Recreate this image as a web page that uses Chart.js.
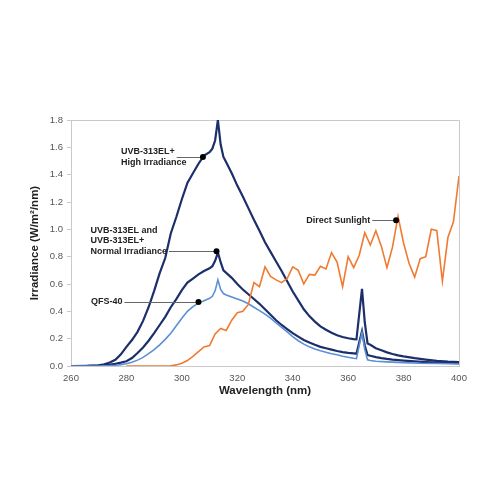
<!DOCTYPE html>
<html>
<head>
<meta charset="utf-8">
<script src="https://cdn.jsdelivr.net/npm/chart.js@4"></script>
<style>
  html, body { margin: 0; padding: 0; background: #fff; }
  #wrap { width: 500px; height: 500px; }
</style>
</head>
<body>
<div id="wrap"><canvas id="spectrum"></canvas></div>
<script>
// UVB-313EL+ high irradiance
const highNm = [260, 266, 270, 272, 274, 276, 278, 280, 282, 284, 286, 288, 290, 292, 294, 296, 298, 300, 302, 304, 306, 308, 310, 311, 312, 313, 314, 315, 316, 318, 320, 322, 324, 326, 328, 330, 332, 334, 336, 338, 340, 342, 344, 346, 348, 350, 352, 354, 356, 358, 360, 362, 363, 365, 366, 367, 368, 370, 372, 374, 376, 378, 380, 384, 388, 392, 396, 400];
const highVal = [0, 0.001, 0.005, 0.012, 0.025, 0.045, 0.085, 0.14, 0.19, 0.25, 0.33, 0.43, 0.55, 0.68, 0.79, 0.97, 1.09, 1.22, 1.34, 1.41, 1.48, 1.54, 1.565, 1.59, 1.65, 1.80, 1.62, 1.53, 1.49, 1.41, 1.32, 1.24, 1.155, 1.07, 0.99, 0.905, 0.835, 0.765, 0.695, 0.62, 0.545, 0.48, 0.415, 0.365, 0.325, 0.29, 0.265, 0.243, 0.225, 0.212, 0.203, 0.197, 0.195, 0.565, 0.32, 0.165, 0.155, 0.13, 0.115, 0.10, 0.088, 0.078, 0.07, 0.057, 0.047, 0.038, 0.032, 0.028];

// UVB-313EL and UVB-313EL+ normal irradiance
const normalNm = [260, 266, 270, 274, 276, 278, 280, 282, 284, 286, 288, 290, 292, 294, 296, 298, 300, 302, 304, 306, 308, 310, 311, 312, 313, 314, 315, 318, 320, 322, 324, 326, 328, 330, 332, 334, 336, 338, 340, 342, 344, 346, 348, 350, 352, 354, 356, 358, 360, 362, 363, 365, 366, 367, 368, 370, 372, 374, 376, 380, 384, 388, 392, 396, 400];
const normalVal = [0, 0.001, 0.003, 0.01, 0.016, 0.025, 0.035, 0.058, 0.095, 0.135, 0.185, 0.24, 0.30, 0.36, 0.43, 0.49, 0.555, 0.61, 0.64, 0.67, 0.695, 0.715, 0.73, 0.77, 0.83, 0.76, 0.70, 0.645, 0.60, 0.56, 0.525, 0.49, 0.455, 0.415, 0.375, 0.335, 0.30, 0.27, 0.24, 0.215, 0.19, 0.172, 0.155, 0.14, 0.13, 0.12, 0.11, 0.102, 0.096, 0.092, 0.09, 0.255, 0.15, 0.08, 0.075, 0.065, 0.058, 0.052, 0.047, 0.04, 0.034, 0.029, 0.025, 0.022, 0.02];

// QFS-40
const qfsNm = [260, 270, 274, 276, 278, 280, 282, 284, 286, 288, 290, 292, 294, 296, 298, 300, 302, 304, 306, 308, 310, 311, 312, 313, 314, 315, 316, 318, 320, 322, 324, 326, 328, 330, 332, 334, 336, 338, 340, 342, 344, 346, 348, 350, 352, 354, 356, 358, 360, 362, 363, 365, 366, 367, 368, 370, 374, 380, 386, 392, 400];
const qfsVal = [0, 0, 0.003, 0.006, 0.01, 0.017, 0.027, 0.043, 0.063, 0.09, 0.12, 0.155, 0.195, 0.24, 0.295, 0.35, 0.40, 0.435, 0.46, 0.478, 0.495, 0.51, 0.55, 0.63, 0.56, 0.53, 0.52, 0.505, 0.49, 0.475, 0.455, 0.43, 0.405, 0.38, 0.35, 0.315, 0.283, 0.25, 0.215, 0.185, 0.16, 0.14, 0.125, 0.112, 0.10, 0.09, 0.082, 0.072, 0.064, 0.057, 0.054, 0.245, 0.12, 0.045, 0.04, 0.035, 0.03, 0.025, 0.02, 0.018, 0.015];

// Direct sunlight
const sunNm = [280, 284, 288, 292, 296, 298, 300, 302, 304, 306, 308, 310, 312, 314, 316, 318, 320, 322, 324, 326, 328, 330, 332, 334, 336, 338, 340, 342, 344, 346, 348, 350, 352, 354, 356, 358, 360, 362, 364, 366, 368, 370, 372, 374, 376, 378, 380, 382, 384, 386, 388, 390, 392, 394, 396, 398, 400];
const sunVal = [0, 0, 0, 0, 0.002, 0.008, 0.02, 0.04, 0.07, 0.105, 0.14, 0.15, 0.235, 0.275, 0.26, 0.335, 0.39, 0.40, 0.45, 0.61, 0.58, 0.725, 0.655, 0.63, 0.61, 0.64, 0.725, 0.70, 0.60, 0.67, 0.665, 0.73, 0.71, 0.83, 0.76, 0.58, 0.80, 0.72, 0.81, 0.975, 0.885, 0.99, 0.875, 0.72, 0.87, 1.095, 0.90, 0.75, 0.65, 0.785, 0.80, 1.0, 0.99, 0.62, 0.94, 1.055, 1.39];

const xTicks = [260, 280, 300, 320, 340, 360, 380, 400];

// callout labels: text lines, where the text starts (nm), the dot it points at, and
// which line the leader line leaves from (rows are offsets in px from the dot height)
const callouts = [
    { lines: ["UVB-313EL+", "High Irradiance"], rows: [-5, 6], from: 0, textNm: 278, dot: [307.6, 1.53] },
    { lines: ["UVB-313EL and", "UVB-313EL+", "Normal Irradiance"], rows: [-21, -10.5, 0], from: 2, textNm: 267, dot: [312.5, 0.84] },
    { lines: ["QFS-40"], rows: [0], from: 0, textNm: 267.2, dot: [306, 0.469] },
    { lines: ["Direct Sunlight"], rows: [0], from: 0, textNm: 344.9, dot: [377.3, 1.067] }
];

const navy = "#1c2f6b";
const lightBlue = "#5c8fd6";
const orange = "#f07a30";
const axisGrey = "#c9c9c9";

function pts(xs, ys) {
    return xs.map((x, i) => ({ x: x, y: ys[i] }));
}

const frame = {
    id: "frame",
    beforeDatasetsDraw(chart) {
        const { ctx, chartArea: a } = chart;
        ctx.save();
        ctx.strokeStyle = axisGrey;
        ctx.lineWidth = 1;
        ctx.beginPath();
        ctx.moveTo(a.left, a.top + 0.5);
        ctx.lineTo(a.right + 0.5, a.top + 0.5);
        ctx.lineTo(a.right + 0.5, a.bottom);
        ctx.stroke();
        ctx.restore();
    }
};

const calloutPlugin = {
    id: "callouts",
    afterDatasetsDraw(chart) {
        const ctx = chart.ctx;
        const xs = chart.scales.x, ys = chart.scales.y;
        ctx.save();
        ctx.font = "bold 9px 'Liberation Sans', Arial, sans-serif";
        ctx.textBaseline = "middle";
        ctx.fillStyle = "#222";
        callouts.forEach(c => {
            const dx = xs.getPixelForValue(c.dot[0]);
            const dy = ys.getPixelForValue(c.dot[1]);
            const tx = xs.getPixelForValue(c.textNm);
            c.lines.forEach((t, i) => ctx.fillText(t, tx, dy + c.rows[i]));
            const start = tx + ctx.measureText(c.lines[c.from]).width + 2;
            ctx.strokeStyle = "#666";
            ctx.lineWidth = 1;
            ctx.beginPath();
            ctx.moveTo(start, Math.round(dy) + 0.5);
            ctx.lineTo(dx, Math.round(dy) + 0.5);
            ctx.stroke();
            ctx.fillStyle = "#000";
            ctx.beginPath();
            ctx.arc(dx, dy, 3, 0, Math.PI * 2);
            ctx.fill();
            ctx.fillStyle = "#222";
        });
        ctx.restore();
    }
};

const spectrum = document.querySelector("#spectrum");
new Chart(spectrum, {
    type: "line",
    data: {
        datasets: [
            { label: "Direct Sunlight", data: pts(sunNm, sunVal), borderColor: orange, borderWidth: 1.6 },
            { label: "QFS-40", data: pts(qfsNm, qfsVal), borderColor: lightBlue, borderWidth: 1.6 },
            { label: "UVB-313EL Normal Irradiance", data: pts(normalNm, normalVal), borderColor: navy, borderWidth: 2.2 },
            { label: "UVB-313EL+ High Irradiance", data: pts(highNm, highVal), borderColor: navy, borderWidth: 2.2 }
        ]
    },
    options: {
        responsive: true,
        maintainAspectRatio: false,
        animation: false,
        elements: {
            point: { radius: 0 },
            line: { tension: 0, fill: false }
        },
        layout: {
            padding: { left: 0, right: 41, top: 120, bottom: 0 }
        },
        scales: {
            x: {
                type: "linear",
                min: 260,
                max: 400,
                afterFit: axis => { axis.height = 134; },
                afterBuildTicks: axis => { axis.ticks = xTicks.map(v => ({ value: v })); },
                grid: { display: false, drawTicks: false },
                border: { display: true, color: axisGrey },
                ticks: {
                    color: "#555",
                    padding: 7,
                    font: { family: "'Liberation Sans', Arial, sans-serif", size: 9.5 }
                },
                title: {
                    display: true,
                    text: "Wavelength (nm)",
                    color: "#222",
                    padding: { top: 0, bottom: 102 },
                    font: { family: "'Liberation Sans', Arial, sans-serif", size: 11.5, weight: "bold" }
                }
            },
            y: {
                min: 0,
                max: 1.8,
                afterFit: axis => { axis.width = 71; },
                grid: { display: true, drawOnChartArea: false, drawTicks: true, tickLength: 4, color: axisGrey },
                border: { display: true, color: axisGrey },
                ticks: {
                    stepSize: 0.1,
                    color: "#555",
                    padding: 4,
                    font: { family: "'Liberation Sans', Arial, sans-serif", size: 9.5 },
                    callback: v => (Math.round(v * 10) % 2 === 0 ? v.toFixed(1) : "")
                },
                title: {
                    display: true,
                    text: "Irradiance (W/m²/nm)",
                    color: "#222",
                    padding: { top: 28, bottom: 0 },
                    font: { family: "'Liberation Sans', Arial, sans-serif", size: 11.5, weight: "bold" }
                }
            }
        },
        plugins: {
            legend: { display: false },
            tooltip: { enabled: false }
        }
    },
    plugins: [frame, calloutPlugin]
});
</script>
</body>
</html>
